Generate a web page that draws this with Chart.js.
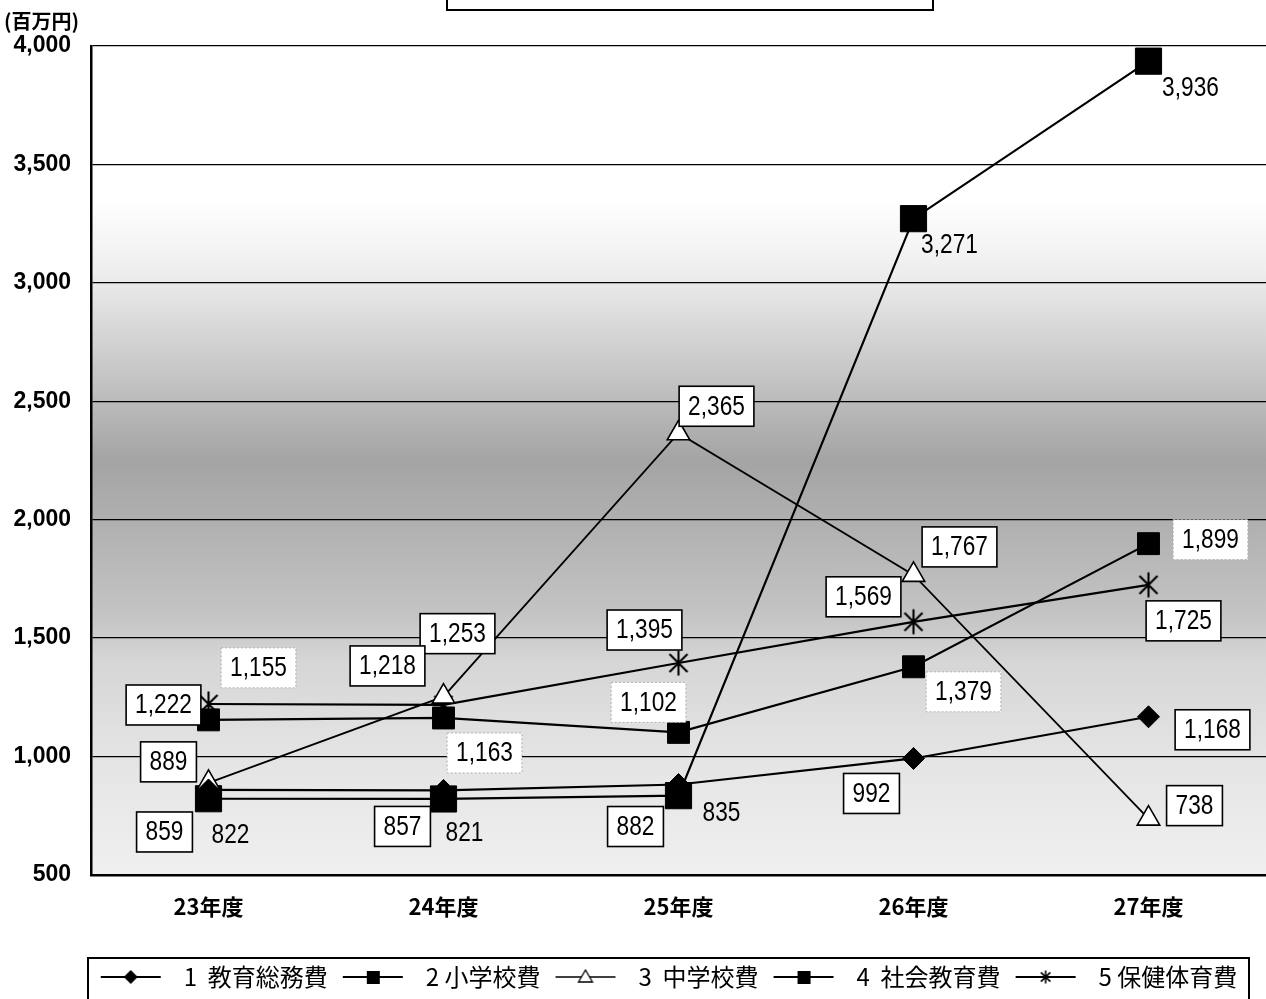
<!DOCTYPE html>
<html lang="ja">
<head>
<meta charset="utf-8">
<title>教育費の推移</title>
<script src="https://cdn.jsdelivr.net/npm/chart.js@4"></script>
<style>
  html, body { margin: 0; padding: 0; background: #fff; }
  #wrap { width: 1266px; height: 999px; }
</style>
</head>
<body>
<div id="wrap"><canvas id="chart" width="1266" height="999"></canvas></div>
<script>
//* Data
const years = ['23年度', '24年度', '25年度', '26年度', '27年度'];
const seriesNames = ['1  教育総務費', '2 小学校費', '3  中学校費', '4  社会教育費', '5 保健体育費'];

const kyoikuSomu = [859, 857, 882, 992, 1168];      // 1 教育総務費
const shogakko = [1155, 1163, 1102, 1379, 1899];    // 2 小学校費
const chugakko = [889, 1253, 2365, 1767, 738];      // 3 中学校費
const shakaiKyoiku = [822, 821, 835, 3271, 3936];   // 4 社会教育費
const hokenTaiiku = [1222, 1218, 1395, 1569, 1725]; // 5 保健体育費

const yMin = 500;
const yMax = 4000;
const yStep = 500;

//* Label placement (offset of label centre from the point, px)
const labelOffsets = [
  [[-44, 42], [-41, 36], [-43, 42], [-42, 35], [64, 13]],
  [[50, -52], [41, 35], [-30, -30], [50, 25], [62, -4]],
  [[-40, -21], [14, -63], [38, -27], [46, -28], [46, -13]],
  [[22, 36], [21, 34], [43, 17], [36, 26], [42, 26]],
  [[-45, 1], [-56, -39], [-34, -33], [-50, -25], [35, 36]],
];
// 'box' = white box black frame, 'faint' = white box faint frame, 'none' = plain text
const labelKinds = ['box', 'faint', 'box', 'none', 'box'];

const numFont = '"Liberation Sans", Arial, sans-serif';
const jpFont = '"Noto Sans CJK JP", "Noto Sans", sans-serif';

//? marker pictures
function starMarker(size, lw) {
  let c = document.createElement('canvas');
  c.width = size; c.height = size;
  let g = c.getContext('2d');
  let h = size / 2, r = size / 2 - 1.5, d = r * 0.72;
  g.strokeStyle = '#000';
  g.lineWidth = lw;
  g.beginPath();
  g.moveTo(h, h - r); g.lineTo(h, h + r);
  g.moveTo(h - d, h - d); g.lineTo(h + d, h + d);
  g.moveTo(h + d, h - d); g.lineTo(h - d, h + d);
  g.stroke();
  return c;
}

// legend picture: line with the marker in the middle, blank space on the right
function legendIcon(kind) {
  let c = document.createElement('canvas');
  c.width = 72; c.height = 26;
  let g = c.getContext('2d');
  let m = 31;
  g.strokeStyle = '#000';
  g.fillStyle = '#000';
  g.lineWidth = kind === 'tri' ? 1.5 : 2.2;
  g.beginPath(); g.moveTo(1, 13); g.lineTo(61, 13); g.stroke();
  g.lineWidth = 1.3;
  if (kind === 'diamond') {
    g.beginPath(); g.moveTo(m, 6); g.lineTo(m + 7, 13); g.lineTo(m, 20); g.lineTo(m - 7, 13); g.closePath(); g.fill();
  } else if (kind === 'square') {
    g.fillRect(m - 6, 7, 13, 13);
  } else if (kind === 'tri') {
    g.fillStyle = '#fff';
    g.beginPath(); g.moveTo(m, 6); g.lineTo(m + 7, 18); g.lineTo(m - 7, 18); g.closePath(); g.fill(); g.stroke();
  } else if (kind === 'star') {
    g.drawImage(starMarker(16, 1.6), m - 8, 5);
  }
  return c;
}

const legendIcons = [legendIcon('diamond'), legendIcon('square'), legendIcon('tri'), legendIcon('square'), legendIcon('star')];

//* Plugins
const backdrop = {
  id: 'backdrop',
  beforeDraw(chart) {
    const {ctx, chartArea: a, scales: {y}} = chart;
    ctx.save();
    ctx.fillStyle = '#fff';
    ctx.fillRect(0, 0, chart.width, chart.height);
    const grad = ctx.createLinearGradient(0, a.top, 0, a.bottom);
    const stop = (v, col) => grad.addColorStop((y.getPixelForValue(v) - a.top) / (a.bottom - a.top), col);
    stop(4000, '#ffffff');
    stop(3350, '#ffffff');
    stop(3050, '#eeeeee');
    stop(2750, '#d2d2d2');
    stop(2250, '#a4a4a4');
    stop(1950, '#b2b2b2');
    stop(1600, '#c4c4c4');
    stop(1400, '#d6d6d6');
    stop(1000, '#e4e4e4');
    stop(500, '#f0f0f0');
    ctx.fillStyle = grad;
    ctx.fillRect(a.left, a.top, a.right - a.left, a.bottom - a.top);
    ctx.restore();
  }
};

const valueLabels = {
  id: 'valueLabels',
  afterDatasetsDraw(chart) {
    const ctx = chart.ctx;
    const squeeze = 0.84;
    ctx.save();
    ctx.font = '27px ' + numFont;
    ctx.textAlign = 'center';
    ctx.textBaseline = 'middle';
    chart.data.datasets.forEach((ds, i) => {
      const meta = chart.getDatasetMeta(i);
      meta.data.forEach((pt, j) => {
        const txt = ds.data[j].toLocaleString('en-US');
        const [dx, dy] = labelOffsets[i][j];
        const cx = pt.x + dx, cy = pt.y + dy;
        const w = ctx.measureText(txt).width * squeeze + 18, h = 40;
        const kind = labelKinds[i];
        if (kind !== 'none') {
          ctx.fillStyle = '#fff';
          ctx.fillRect(cx - w / 2, cy - h / 2, w, h);
          ctx.lineWidth = kind === 'box' ? 1.6 : 1;
          ctx.strokeStyle = kind === 'box' ? '#000' : '#b0b0b0';
          if (kind === 'faint') ctx.setLineDash([2, 2]);
          ctx.strokeRect(cx - w / 2, cy - h / 2, w, h);
          ctx.setLineDash([]);
        }
        ctx.fillStyle = '#000';
        ctx.save();
        ctx.translate(cx, cy + 1);
        ctx.scale(squeeze, 1);
        ctx.fillText(txt, 0, 0);
        ctx.restore();
      });
    });
    ctx.restore();
  }
};

// legend frame spans x 88..1249, the legend row is centred inside it
const legendFrame = { left: 88, right: 1249, top: 958 };

const frames = {
  id: 'frames',
  afterLayout(chart) {
    const lg = chart.legend;
    const d = (legendFrame.left + legendFrame.right) / 2 - (lg.left + lg.right) / 2;
    lg.left += d;
    lg.right += d;
  },
  afterDraw(chart) {
    const ctx = chart.ctx;
    ctx.save();
    ctx.strokeStyle = '#000';
    ctx.lineWidth = 2;
    // empty title box at the top
    ctx.strokeRect(447, -4, 486, 14);
    ctx.strokeRect(legendFrame.left, legendFrame.top, legendFrame.right - legendFrame.left, 48);
    // unit
    ctx.fillStyle = '#000';
    ctx.font = 'bold 20px ' + jpFont;
    ctx.textAlign = 'left';
    ctx.textBaseline = 'middle';
    ctx.fillText('(百万円)', 4, 21);
    ctx.restore();
  }
};

//* Chart
const lineSet = (label, data, extra) => Object.assign({
  label: label,
  data: data,
  borderColor: '#000',
  backgroundColor: '#000',
  borderWidth: 2.2,
  pointBorderColor: '#000',
  pointBackgroundColor: '#000',
  pointBorderWidth: 1,
  tension: 0,
}, extra);

const legendPad = 14;

const ctx = document.getElementById('chart').getContext('2d');
const chart = new Chart(ctx, {
  type: 'line',
  data: {
    labels: years,
    datasets: [
      lineSet(seriesNames[0], kyoikuSomu, {pointStyle: 'rectRot', pointRadius: 11}),
      lineSet(seriesNames[1], shogakko, {pointStyle: 'rect', pointRadius: 15.5}),
      lineSet(seriesNames[2], chugakko, {pointStyle: 'triangle', pointRadius: 13, borderWidth: 1.8,
        pointBackgroundColor: '#fff', pointBorderWidth: 1.6}),
      lineSet(seriesNames[3], shakaiKyoiku, {pointStyle: 'rect', pointRadius: 18.5}),
      lineSet(seriesNames[4], hokenTaiiku, {pointStyle: starMarker(28, 2.1), pointRadius: 14}),
    ]
  },
  options: {
    responsive: false,
    animation: false,
    layout: { autoPadding: false, padding: { top: 46, right: 0, left: 0, bottom: 0 } },
    plugins: {
      tooltip: { enabled: false },
      legend: {
        position: 'bottom',
        labels: {
          color: '#000',
          font: { family: jpFont, size: 24 },
          usePointStyle: true,
          pointStyleWidth: 72,
          padding: legendPad,
          generateLabels: c => c.data.datasets.map((ds, i) => ({
            text: ds.label,
            pointStyle: legendIcons[i],
            fillStyle: '#000',
            strokeStyle: '#000',
            lineWidth: 0,
            hidden: false,
            datasetIndex: i,
          })),
        }
      }
    },
    scales: {
      x: {
        offset: true,
        grid: { display: false, drawTicks: false },
        border: { display: true, color: '#000', width: 2.5 },
        ticks: { color: '#000', padding: 18, font: { family: jpFont, size: 22, weight: 'bold' } },
        // plot bottom at 875: canvas 999 minus legend block (24 + pad + 10)
        afterFit: s => { s.height = 999 - 875 - (24 + legendPad + 10); },
      },
      y: {
        min: yMin,
        max: yMax,
        ticks: {
          stepSize: yStep,
          color: '#000',
          padding: 20,
          font: { family: numFont, size: 23, weight: 'bold' },
          callback: v => v.toLocaleString('en-US'),
        },
        grid: { color: '#000', lineWidth: 1.3, drawTicks: false },
        border: { display: true, color: '#000', width: 2.5 },
        afterFit: s => { s.width = 91; },
      }
    }
  },
  plugins: [backdrop, valueLabels, frames]
});
</script>
</body>
</html>
